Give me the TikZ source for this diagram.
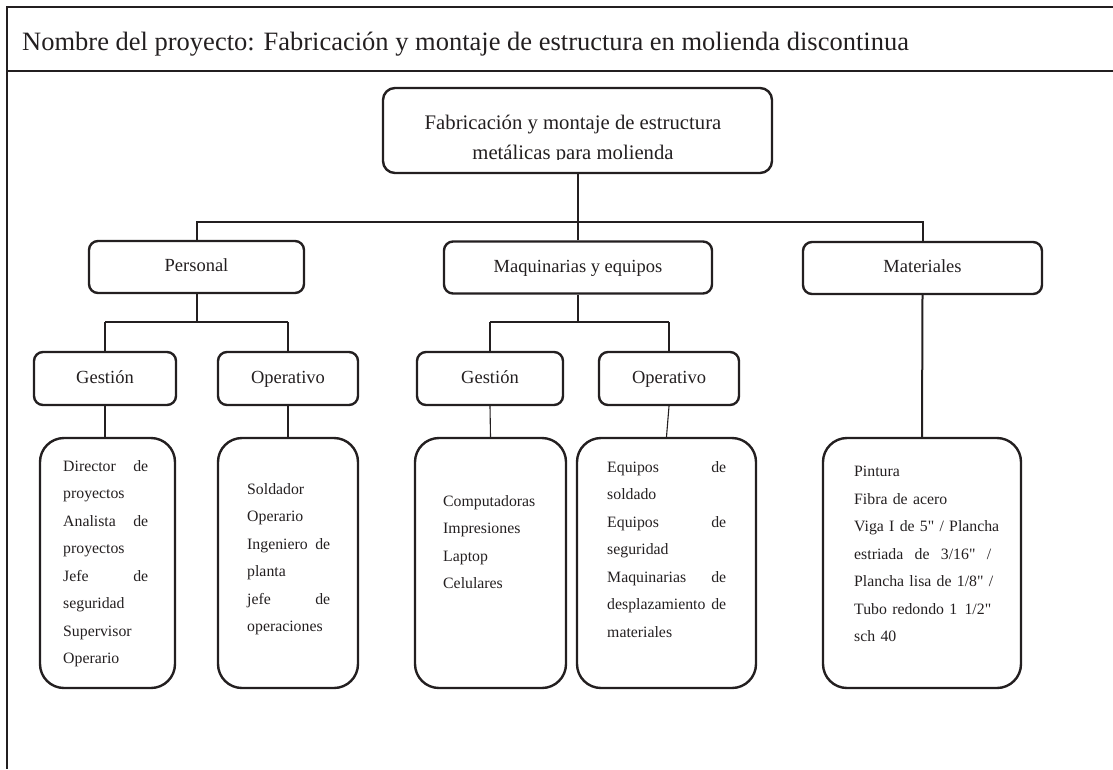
\documentclass[tikz,border=0pt]{standalone}
\usepackage{fontspec}
\setmainfont{Liberation Serif}
\definecolor{ink}{HTML}{231F20}
\newcommand{\pulg}{\textquotedbl}
\begin{document}
\begin{tikzpicture}[x=1pt,y=1pt,
  box/.style={draw=ink,line width=2.4pt,rounded corners=9pt},
  catbox/.style={box,font=\fontsize{18.5}{22}\selectfont,text height=13pt,text depth=4pt},
  listbox/.style={box,rounded corners=24pt,minimum height=250pt},
  listtext/.style={anchor=north west,align=left,font=\fontsize{15.8}{27.5}\selectfont},
  bus/.style={draw=ink,line width=2pt},
  drop/.style={draw=ink,line width=1.1pt}]
\tikzstyle{every node}+=[inner sep=0pt,text=ink]
\useasboundingbox (0,0) rectangle (1113,-769);
% marco y encabezado
\draw [ink,line width=1.8pt] (1113,-7) -- (7,-7) -- (7,-769);
\draw [ink,line width=1.8pt] (7,-71) -- (1113,-71);
\node [anchor=base west,font=\fontsize{26.5}{30}\selectfont] (titulo) at (22,-50) {Nombre del proyecto: Fabricación y montaje de estructura en molienda discontinua};
% raiz
\node [box,rounded corners=12pt,minimum width=389pt,minimum height=85pt] (raiz) at (577.5,-130.5) {};
\begin{scope}
\clip (383,-88) rectangle (772,-159);
\node [anchor=north,align=center,font=\fontsize{20.7}{30}\selectfont] (raiztxt) at (573,-115) {Fabricación y montaje de estructura\\metálicas para molienda};
\end{scope}
% primer nivel
\node [catbox,minimum width=215pt,minimum height=52pt] (pers) at (196.5,-267) {Personal};
\node [catbox,minimum width=268pt,minimum height=52pt] (maq) at (578,-267.5) {Maquinarias y equipos};
\node [catbox,minimum width=239pt,minimum height=52pt] (mat) at (922.5,-268) {Materiales};
% segundo nivel
\node [catbox,minimum width=142pt,minimum height=53pt] (persG) at (105,-378.5) {Gestión};
\node [catbox,minimum width=140pt,minimum height=53pt] (persO) at (288,-378.5) {Operativo};
\node [catbox,minimum width=146pt,minimum height=53pt] (maqG) at (490,-378.5) {Gestión};
\node [catbox,minimum width=140pt,minimum height=53pt] (maqO) at (669,-378.5) {Operativo};
% listas
\node [listbox,minimum width=135pt] (listPG) at (107.5,-563) {};
\node [listbox,minimum width=140pt] (listPO) at (288,-563) {};
\node [listbox,minimum width=151pt] (listMG) at (490.5,-563) {};
\node [listbox,minimum width=179pt] (listMO) at (666.5,-563) {};
\node [listbox,minimum width=198pt] (listMat) at (922,-563) {};
\node [listtext,text width=85pt] (txtPG) at (63,-460) {Director\hfill de\\proyectos\\Analista\hfill de\\proyectos\\Jefe\hfill de\\seguridad\\Supervisor\\Operario};
\node [listtext,text width=83pt] (txtPO) at (247,-483) {Soldador\\Operario\\Ingeniero\hfill de\\planta\\jefe\hfill de\\operaciones};
\node [listtext] (txtMG) at (443,-495) {Computadoras\\Impresiones\\Laptop\\Celulares};
\node [listtext,text width=119pt] (txtMO) at (607,-461) {Equipos\hfill de\\soldado\\Equipos\hfill de\\seguridad\\Maquinarias\hfill de\\desplazamiento\hfill de\\materiales};
\node [listtext,text width=137pt] (txtMat) at (854,-466) {Pintura\\Fibra de acero\\\mbox{Viga I de 5\pulg{} / Plancha}\\estriada\hfill de\hfill 3/16\pulg\hfill /\\\mbox{Plancha lisa de 1/8\pulg{} /}\\Tubo redondo 1\hfill 1/2\pulg\\sch 40};
% conectores
\coordinate (bus1) at (0,-222);
\coordinate (bus2) at (0,-322);
\draw [bus] (raiz.south) -- (raiz.south |- bus1);
\draw [bus] (pers.north) |- (mat.north |- bus1) -- (mat.north);
\draw [bus] (maq.north) -- (maq.north |- bus1);
\draw [bus] (pers.south) -- (pers.south |- bus2);
\draw [bus] (persG.north |- bus2) -- (persO.north |- bus2);
\draw [drop] (persG.north |- bus2) -- (persG.north);
\draw [drop] (persO.north |- bus2) -- (persO.north);
\draw [bus] (maq.south) -- (maq.south |- bus2);
\draw [bus] (maqG.north |- bus2) -- (maqO.north |- bus2);
\draw [drop] (maqG.north |- bus2) -- (maqG.north);
\draw [drop] (maqO.north |- bus2) -- (maqO.north);
\draw [drop] (persG.south) -- (persG.south |- listPG.north);
\draw [drop] (persO.south) -- (listPO.north);
\draw [drop] (maqG.south) -- (listMG.north);
\draw [drop] (maqO.south) -- (listMO.north);
\draw [bus] (mat.south) -- (listMat.north);
\end{tikzpicture}
\end{document}
